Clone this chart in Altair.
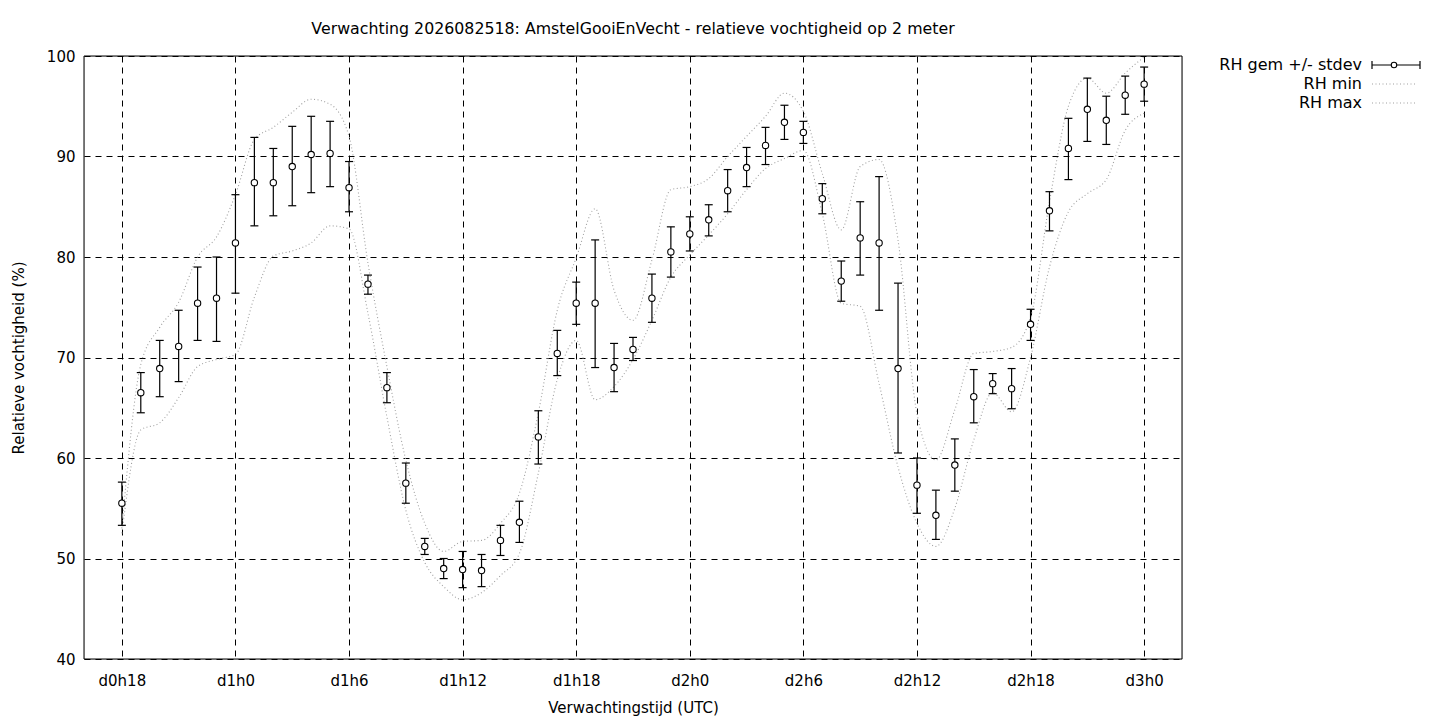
import json
import altair as alt
import pandas as pd

# ---- data ----
hours = list(range(18, 73))
rh_mean = [55.5, 66.5, 68.9, 71.1, 75.4, 75.9, 81.4, 87.4, 87.4, 89.0, 90.2, 90.3, 86.9, 77.3,
           67.0, 57.5, 51.2, 49.0, 48.9, 48.8, 51.8, 53.6, 62.1, 70.4, 75.4, 75.4, 69.0, 70.8,
           75.9, 80.5, 82.3, 83.7, 86.6, 88.9, 91.1, 93.4, 92.4, 85.8, 77.6, 81.9, 81.4, 68.9,
           57.3, 54.3, 59.3, 66.1, 67.4, 66.9, 73.3, 84.6, 90.8, 94.7, 93.6, 96.1, 97.2]
rh_hi = [57.6, 68.5, 71.7, 74.7, 79.0, 80.0, 86.2, 91.9, 90.8, 93.0, 94.0, 93.5, 89.5, 78.2,
         68.5, 59.5, 52.0, 50.0, 50.7, 50.4, 53.3, 55.7, 64.7, 72.7, 77.5, 81.7, 71.4, 72.0,
         78.3, 83.0, 84.0, 85.2, 88.7, 90.9, 92.9, 95.1, 93.5, 87.3, 79.6, 85.5, 88.0, 77.4,
         60.0, 56.8, 61.9, 68.8, 68.4, 68.9, 74.8, 86.5, 93.8, 97.8, 96.0, 98.0, 98.9]
rh_lo = [53.3, 64.5, 66.1, 67.6, 71.7, 71.6, 76.4, 83.1, 84.1, 85.1, 86.4, 87.0, 84.5, 76.3,
         65.5, 55.5, 50.4, 48.0, 47.1, 47.2, 50.3, 51.6, 59.4, 68.2, 73.3, 69.0, 66.6, 69.7,
         73.5, 78.0, 80.6, 82.1, 84.5, 87.0, 89.2, 91.7, 91.3, 84.3, 75.6, 78.2, 74.7, 60.5,
         54.5, 51.9, 56.7, 63.5, 66.4, 64.9, 71.7, 82.6, 87.7, 91.5, 91.2, 94.2, 95.5]
rh_min = [52.5, 62.8, 63.5, 66.0, 69.1, 69.8, 70.3, 76.0, 80.1, 80.6, 81.4, 83.1, 82.8, 74.4,
          64.1, 54.8, 49.6, 47.2, 45.9, 46.6, 48.3, 50.5, 58.5, 67.8, 71.7, 65.8, 67.1, 69.8,
          73.7, 78.0, 80.2, 82.2, 84.3, 86.7, 88.8, 89.8, 90.6, 84.3, 75.4, 75.1, 67.4, 59.1,
          53.5, 51.2, 55.0, 61.8, 66.5, 64.6, 70.0, 79.0, 84.5, 86.3, 87.7, 92.6, 94.3]
rh_max = [53.0, 69.3, 73.0, 75.5, 80.0, 82.0, 86.2, 91.7, 92.9, 94.4, 95.7, 95.2, 92.0, 79.4,
          69.1, 59.8, 53.5, 50.7, 51.7, 51.8, 53.5, 56.5, 64.5, 74.7, 79.9, 84.8, 76.7, 73.7,
          79.7, 86.7, 87.0, 87.8, 90.0, 92.0, 94.0, 96.3, 94.5, 88.3, 82.7, 89.0, 89.7, 81.7,
          64.4, 59.8, 64.8, 70.4, 70.6, 71.0, 74.0, 85.5, 95.0, 97.8, 96.3, 98.3, 99.9]

tick_vals = [18, 24, 30, 36, 42, 48, 54, 60, 66, 72]
tick_labels = ["d0h18", "d1h0", "d1h6", "d1h12", "d1h18", "d2h0", "d2h6", "d2h12", "d2h18", "d3h0"]
y_ticks = [40, 50, 60, 70, 80, 90, 100]
legend_labels = ["RH gem +/- stdev", "RH min", "RH max"]
title_text = "Verwachting 2026082518: AmstelGooiEnVecht - relatieve vochtigheid op 2 meter"

df = pd.DataFrame({"hour": hours, "mean": rh_mean, "lo": rh_lo, "hi": rh_hi,
                   "min": rh_min, "max": rh_max})

FONT = "DejaVu Sans"
W, H = 1098, 603
label_expr = f"{json.dumps(tick_labels)}[indexof({json.dumps(tick_vals)}, datum.value)]"

x_axis = alt.Axis(values=tick_vals, labelExpr=label_expr, grid=True, gridColor="black",
                  gridOpacity=1, gridDash=[6, 5], gridWidth=1, ticks=False, tickSize=0,
                  domain=False, labelPadding=14, labelFontSize=15, labelFont=FONT,
                  labelColor="black", title="Verwachtingstijd (UTC)", titleFont=FONT,
                  titleFontSize=15, titleFontWeight="normal", titleColor="black",
                  titleY=48, titleBaseline="middle")
y_axis = alt.Axis(values=y_ticks, grid=True, gridColor="black", gridOpacity=1,
                  gridDash=[6, 5], gridWidth=1, ticks=False, tickSize=0, domain=False,
                  labelPadding=9, labelFontSize=15, labelFont=FONT, labelColor="black",
                  title="Relatieve vochtigheid (%)", titleFont=FONT, titleFontSize=15,
                  titleFontWeight="normal", titleColor="black", titleX=-66,
                  titleBaseline="middle")

xs = alt.Scale(domain=[16, 74], nice=False, zero=False)
ys = alt.Scale(domain=[40, 100], nice=False, zero=False)


def X():
    return alt.X("hour:Q", scale=xs, axis=x_axis)


def Y(field):
    return alt.Y(f"{field}:Q", scale=ys, axis=y_axis)


base = alt.Chart(df)

line_style = dict(interpolate="monotone", color="#a0a0a0", strokeDash=[1, 2.5], strokeWidth=1.1)
min_line = base.mark_line(**line_style).encode(x=X(), y=Y("min"))
max_line = base.mark_line(**line_style).encode(x=X(), y=Y("max"))

bars = base.mark_rule(color="black", strokeWidth=1.2).encode(x=X(), y=Y("lo"), y2="hi:Q")
cap_lo = base.mark_rule(color="black", strokeWidth=1.2, xOffset=-4, x2Offset=4).encode(
    x=X(), x2="hour:Q", y=Y("lo"))
cap_hi = base.mark_rule(color="black", strokeWidth=1.2, xOffset=-4, x2Offset=4).encode(
    x=X(), x2="hour:Q", y=Y("hi"))
points = base.mark_point(shape="circle", fill="white", fillOpacity=1, stroke="black",
                         strokeWidth=1.1, size=40, opacity=1).encode(x=X(), y=Y("mean"))

one = alt.Data(values=[{"k": 0}])

# ---- plot frame ----
frame = []
for (a, b, c, d) in [(0, W, 0, 0), (0, W, H, H), (0, 0, 0, H), (W, W, 0, H)]:
    frame.append(alt.Chart(one).mark_rule(color="black", strokeWidth=1).encode(
        x=alt.value(a), x2=alt.value(b), y=alt.value(c), y2=alt.value(d)))

# ---- title ----
title_mark = alt.Chart(one).mark_text(align="center", baseline="middle", font=FONT,
                                      fontSize=15.8, color="black").encode(
    x=alt.value(W / 2), y=alt.value(-27), text=alt.value(title_text))

# ---- legend (drawn by hand, right of the plot) ----
lx_text, lx0, lx1, lxc = 1278, 1288, 1336, 1310
ly = [9, 28, 47]
legend_layers = []
for lab, yy in zip(legend_labels, ly):
    legend_layers.append(alt.Chart(one).mark_text(align="right", baseline="middle", font=FONT,
                                                   fontSize=16, color="black").encode(
        x=alt.value(lx_text), y=alt.value(yy), text=alt.value(lab)))
legend_layers.append(alt.Chart(one).mark_rule(color="black", strokeWidth=1.2).encode(
    x=alt.value(lx0), x2=alt.value(lx1), y=alt.value(ly[0])))
for xx in (lx0, lx1):
    legend_layers.append(alt.Chart(one).mark_rule(color="black", strokeWidth=1.2).encode(
        x=alt.value(xx), y=alt.value(ly[0] - 4), y2=alt.value(ly[0] + 4)))
legend_layers.append(alt.Chart(one).mark_point(shape="circle", fill="white", fillOpacity=1,
                                                stroke="black", strokeWidth=1.1, size=30,
                                                opacity=1).encode(
    x=alt.value(lxc), y=alt.value(ly[0])))
for yy in ly[1:]:
    legend_layers.append(alt.Chart(one).mark_rule(color="#a0a0a0", strokeDash=[1, 2.5],
                                                  strokeWidth=1.1).encode(
        x=alt.value(lx0), x2=alt.value(lx1 - 3), y=alt.value(yy)))

chart = alt.layer(min_line, max_line, bars, cap_lo, cap_hi, points, *frame, title_mark,
                  *legend_layers).properties(
    width=W, height=H,
    autosize=alt.AutoSizeParams(type="none"),
    padding={"left": 76, "top": 48, "right": 245, "bottom": 58},
).configure_view(stroke=None).configure(background="white")

chart.save("out.html", embed_options={"renderer": "svg", "actions": False})
